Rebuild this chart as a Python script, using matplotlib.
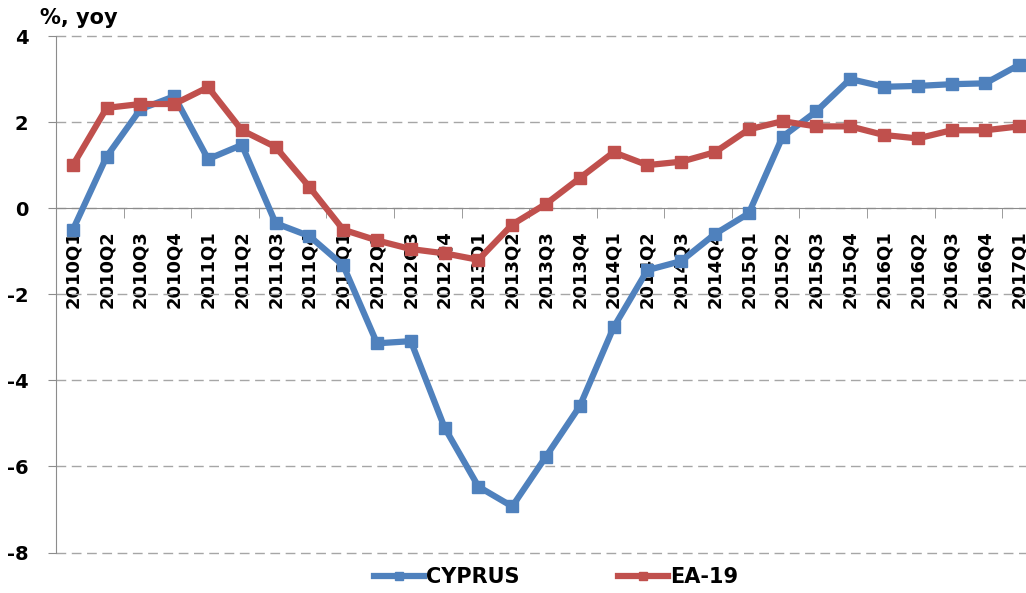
import numpy as np
import matplotlib.pyplot as plt
from matplotlib.ticker import MultipleLocator, FixedLocator

plt.rcParams['axes.unicode_minus'] = False

# data
quarters = ['2010Q1', '2010Q2', '2010Q3', '2010Q4', '2011Q1', '2011Q2', '2011Q3', '2011Q4',
            '2012Q1', '2012Q2', '2012Q3', '2012Q4', '2013Q1', '2013Q2', '2013Q3', '2013Q4',
            '2014Q1', '2014Q2', '2014Q3', '2014Q4', '2015Q1', '2015Q2', '2015Q3', '2015Q4',
            '2016Q1', '2016Q2', '2016Q3', '2016Q4', '2017Q1']
cyprus = [-0.5, 1.2, 2.3, 2.6, 1.14, 1.47, -0.35, -0.65,
          -1.33, -3.14, -3.09, -5.1, -6.47, -6.93, -5.77, -4.6,
          -2.77, -1.44, -1.23, -0.6, -0.12, 1.66, 2.25, 3.0,
          2.82, 2.84, 2.88, 2.9, 3.33]
ea19 = [1.0, 2.33, 2.42, 2.42, 2.81, 1.81, 1.42, 0.49,
        -0.5, -0.75, -0.95, -1.05, -1.2, -0.38, 0.1, 0.7,
        1.3, 1.0, 1.08, 1.3, 1.83, 2.02, 1.9, 1.9,
        1.7, 1.62, 1.81, 1.81, 1.9]

blue = '#4F81BD'
red = '#C0504D'
fnt = 'DejaVu Sans'

fig = plt.figure(figsize=(10.26, 5.93), dpi=100)
ax = fig.add_axes([56/1026, 1-552.5/593, (1036-56)/1026, (552.5-36)/593])

x = np.arange(len(quarters))
ax.plot(x, cyprus, color=blue, lw=4.5, marker='s', ms=8, label='CYPRUS', zorder=3)
ax.plot(x, ea19, color=red, lw=4.5, marker='s', ms=8, label='EA-19', zorder=3)

ax.set_xlim(-0.5, len(quarters) - 0.5)
ax.set_ylim(-8, 4)
ax.yaxis.set_major_locator(MultipleLocator(2))
ax.grid(axis='y', color='#a6a6a6', lw=1, ls=(0, (7, 4)))
for gl in ax.get_ygridlines():
    gl.set_clip_on(False)
ax.set_axisbelow(True)

for s in ['top', 'right']:
    ax.spines[s].set_visible(False)
ax.spines['left'].set_color('#8c8c8c')
ax.spines['bottom'].set_color('#8c8c8c')
ax.spines['bottom'].set_position(('data', 0))

ax.set_xticks(x)
ax.set_xticklabels(quarters, rotation=90, fontsize=13, fontweight='bold', family=fnt)
ax.tick_params(axis='x', which='major', length=0, pad=16)
ax.xaxis.set_minor_locator(FixedLocator(np.arange(-0.5, len(quarters), 2)))
ax.tick_params(axis='x', which='minor', length=7, color='#8c8c8c', direction='out')
ax.tick_params(axis='y', length=6, color='#8c8c8c', pad=14)
for lab in ax.get_yticklabels():
    lab.set_fontsize(14)
    lab.set_fontweight('bold')
    lab.set_family(fnt)

fig.text(40/1026, 1-18/593, '%, yoy', fontsize=15, fontweight='bold', family=fnt, va='center')

fig.legend(loc='center', bbox_to_anchor=(0.542, 1-577/593), ncol=2, frameon=False,
           prop={'family': fnt, 'weight': 'bold', 'size': 15}, handlelength=2.4,
           columnspacing=4.7, handletextpad=0.1, markerscale=0.8)

fig.savefig('out.png', dpi=100)
